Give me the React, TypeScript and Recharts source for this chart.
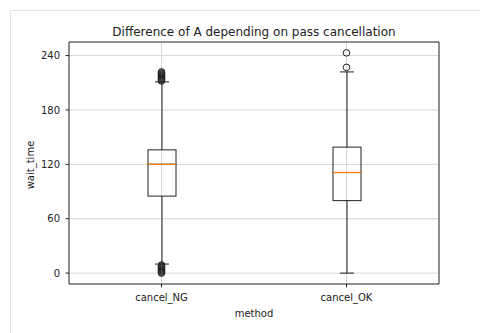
import React from 'react';
import { ComposedChart, Bar, Scatter, XAxis, YAxis, CartesianGrid, ReferenceArea } from 'recharts';

const categories = ['cancel_NG', 'cancel_OK'];
const whiskerLow = [10, 0];
const q1 = [85, 80];
const median = [120, 111];
const q3 = [136, 139];
const whiskerHigh = [211, 222];

const outliersNG = [0, 1, 2, 3, 4, 5, 6, 7, 8, 9, 212, 213, 214, 215, 216, 217, 218, 219, 220, 221, 222];
const outliersOK = [227, 243];

const yTicks = [0, 60, 120, 180, 240];
const yDomain = [-12, 255];

const boxData = categories.map((method, i) => ({
  method,
  base: whiskerLow[i],
  lowWhisker: q1[i] - whiskerLow[i],
  boxLow: median[i] - q1[i],
  boxHigh: q3[i] - median[i],
  highWhisker: whiskerHigh[i] - q3[i],
}));

const outlierData = [
  ...outliersNG.map((value) => ({ method: categories[0], value })),
  ...outliersOK.map((value) => ({ method: categories[1], value })),
];

const LINE = '#222';
const MEDIAN = '#ff7f0e';
const FONT = 'DejaVu Sans';

const Empty = () => <g />;

const LowWhisker = (props: any) => {
  const { x, y, width, height } = props;
  const cx = x + width / 2;
  return (
    <g>
      <line x1={cx} x2={cx} y1={y} y2={y + height} stroke={LINE} strokeWidth={1} />
      <line x1={cx - width / 4} x2={cx + width / 4} y1={y + height} y2={y + height} stroke={LINE} strokeWidth={1} />
    </g>
  );
};

const HighWhisker = (props: any) => {
  const { x, y, width, height } = props;
  const cx = x + width / 2;
  return (
    <g>
      <line x1={cx} x2={cx} y1={y} y2={y + height} stroke={LINE} strokeWidth={1} />
      <line x1={cx - width / 4} x2={cx + width / 4} y1={y} y2={y} stroke={LINE} strokeWidth={1} />
    </g>
  );
};

const BoxLow = (props: any) => {
  const { x, y, width, height } = props;
  return <rect x={x} y={y} width={width} height={height} fill="none" stroke={LINE} strokeWidth={1} />;
};

const BoxHigh = (props: any) => {
  const { x, y, width, height } = props;
  return (
    <g>
      <rect x={x} y={y} width={width} height={height} fill="none" stroke={LINE} strokeWidth={1} />
      <line x1={x} x2={x + width} y1={y + height} y2={y + height} stroke={MEDIAN} strokeWidth={1.3} />
    </g>
  );
};

const Flier = (props: any) => {
  const { cx, cy } = props;
  return <circle cx={cx} cy={cy} r={3.3} fill="none" stroke={LINE} strokeWidth={1} />;
};

export default function App() {
  return (
    <div style={{ position: 'absolute', left: 0, top: 0, width: 480, height: 333, background: '#fff' }}>
      <div
        style={{
          position: 'absolute',
          left: 10,
          top: 10,
          width: 470,
          height: 323,
          borderLeft: '1px solid #e3e3e3',
          borderTop: '1px solid #e3e3e3',
        }}
      />
      <div
        style={{
          position: 'absolute',
          left: 69,
          width: 370,
          top: 25,
          textAlign: 'center',
          fontFamily: FONT,
          fontSize: 12,
          lineHeight: '14px',
          color: '#222',
        }}
      >
        Difference of A depending on pass cancellation
      </div>
      <ComposedChart
        width={480}
        height={333}
        data={boxData}
        margin={{ top: 42, right: 41, bottom: 0, left: 0 }}
        barGap={0}
      >
        <CartesianGrid stroke="#d6d6d6" strokeWidth={1} />
        <XAxis
          dataKey="method"
          type="category"
          allowDuplicatedCategory={false}
          height={49}
          axisLine={false}
          tickSize={3.5}
          tickMargin={6}
          tickLine={{ stroke: LINE }}
          tick={{ fill: '#222', fontSize: 10, fontFamily: FONT }}
          label={{ value: 'method', position: 'center', dy: 4.5, fill: '#222', fontSize: 10, fontFamily: FONT }}
        />
        <YAxis
          type="number"
          domain={yDomain}
          ticks={yTicks}
          width={69}
          axisLine={false}
          tickSize={3.5}
          tickMargin={5.5}
          tickLine={{ stroke: LINE }}
          tick={{ fill: '#222', fontSize: 10, fontFamily: FONT }}
          label={{ value: 'wait_time', angle: -90, position: 'center', dx: -4.5, dy: 2, fill: '#222', fontSize: 10, fontFamily: FONT }}
        />
        <ReferenceArea y1={yDomain[0]} y2={yDomain[1]} fill="none" stroke="#333" strokeWidth={1} />
        <Bar dataKey="base" stackId="box" barSize={28} shape={<Empty />} isAnimationActive={false} />
        <Bar dataKey="lowWhisker" stackId="box" barSize={28} shape={<LowWhisker />} isAnimationActive={false} />
        <Bar dataKey="boxLow" stackId="box" barSize={28} shape={<BoxLow />} isAnimationActive={false} />
        <Bar dataKey="boxHigh" stackId="box" barSize={28} shape={<BoxHigh />} isAnimationActive={false} />
        <Bar dataKey="highWhisker" stackId="box" barSize={28} shape={<HighWhisker />} isAnimationActive={false} />
        <Scatter data={outlierData} dataKey="value" shape={<Flier />} isAnimationActive={false} />
      </ComposedChart>
    </div>
  );
}
